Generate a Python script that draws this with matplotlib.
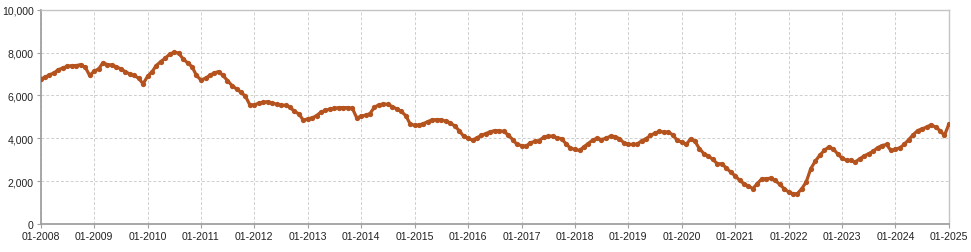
import matplotlib
matplotlib.use("Agg")
import matplotlib.pyplot as plt
import matplotlib.dates as mdates
import matplotlib.ticker as mticker
import pandas as pd

start_month = "2008-01-01"
values_2008 = [6770, 6850, 6960, 7050, 7200, 7280, 7360, 7390, 7390, 7440, 7310, 6930]
values_2009 = [7130, 7240, 7520, 7440, 7420, 7340, 7240, 7110, 7000, 6930, 6800, 6540]
values_2010 = [6890, 7110, 7390, 7580, 7730, 7930, 8010, 7980, 7700, 7520, 7340, 6930]
values_2011 = [6720, 6800, 6930, 7050, 7110, 6930, 6690, 6460, 6300, 6150, 5960, 5560]
values_2012 = [5560, 5640, 5680, 5710, 5640, 5590, 5560, 5530, 5450, 5250, 5140, 4830]
values_2013 = [4910, 4950, 5060, 5220, 5300, 5370, 5400, 5430, 5430, 5430, 5400, 4950]
values_2014 = [5030, 5080, 5150, 5450, 5560, 5600, 5580, 5480, 5370, 5250, 5060, 4670]
values_2015 = [4600, 4620, 4680, 4780, 4860, 4870, 4860, 4800, 4720, 4580, 4360, 4100]
values_2016 = [4000, 3910, 4020, 4130, 4220, 4300, 4360, 4350, 4320, 4160, 3940, 3710]
values_2017 = [3660, 3630, 3790, 3850, 3890, 4050, 4100, 4100, 4020, 3980, 3740, 3540]
values_2018 = [3480, 3430, 3590, 3750, 3910, 4000, 3940, 4000, 4100, 4080, 3980, 3790]
values_2019 = [3710, 3710, 3720, 3880, 3975, 4130, 4240, 4320, 4290, 4290, 4160, 3900]
values_2020 = [3820, 3710, 3975, 3850, 3510, 3280, 3170, 3010, 2810, 2810, 2610, 2420]
values_2021 = [2240, 2030, 1880, 1770, 1650, 1880, 2110, 2110, 2140, 2030, 1850, 1650]
values_2022 = [1490, 1410, 1410, 1650, 1960, 2580, 2920, 3200, 3430, 3590, 3510, 3280]
values_2023 = [3070, 2970, 2970, 2890, 3040, 3170, 3280, 3390, 3560, 3660, 3710, 3430]
values_2024 = [3480, 3560, 3710, 3940, 4160, 4360, 4440, 4520, 4630, 4520, 4360, 4130]
values_2025 = [4670]

y_ticks = [0, 2000, 4000, 6000, 8000, 10000]
tick_years = list(range(2008, 2026))

values = (values_2008 + values_2009 + values_2010 + values_2011 + values_2012 +
          values_2013 + values_2014 + values_2015 + values_2016 + values_2017 +
          values_2018 + values_2019 + values_2020 + values_2021 + values_2022 +
          values_2023 + values_2024 + values_2025)
dates = pd.date_range(start_month, periods=len(values), freq="MS")

plt.rcParams["font.family"] = ["Liberation Sans", "DejaVu Sans"]

fig = plt.figure(figsize=(9.71, 2.53), dpi=100)
ax = fig.add_axes([0.0419, 0.1107, 0.9354, 0.8470])

ax.plot(dates, values, color="#B5531F", linewidth=2.3, marker="o",
        markersize=3.8, markeredgewidth=0, zorder=3)

ax.set_ylim(0, 10000)
ax.set_xlim(pd.Timestamp("2008-01-01"), pd.Timestamp("2025-01-01"))
ax.set_yticks(y_ticks)
ax.yaxis.set_major_formatter(mticker.FuncFormatter(lambda v, p: f"{int(v):,}"))
ax.set_xticks([pd.Timestamp(f"{y}-01-01") for y in tick_years])
ax.xaxis.set_major_formatter(mdates.DateFormatter("%m-%Y"))

ax.grid(True, which="major", color="#cfcfcf", linestyle=(0, (3, 2)), linewidth=0.7)
ax.set_axisbelow(True)

for side in ["left", "bottom"]:
    ax.spines[side].set_color("#a0a0a0")
    ax.spines[side].set_linewidth(1.3)
for side in ["top", "right"]:
    ax.spines[side].set_color("#c4c4c4")
    ax.spines[side].set_linewidth(1.0)

ax.tick_params(axis="both", labelsize=7.6, colors="#a0a0a0", labelcolor="#222222",
               length=3, width=0.8, pad=2)

fig.savefig("out.png", dpi=100)
